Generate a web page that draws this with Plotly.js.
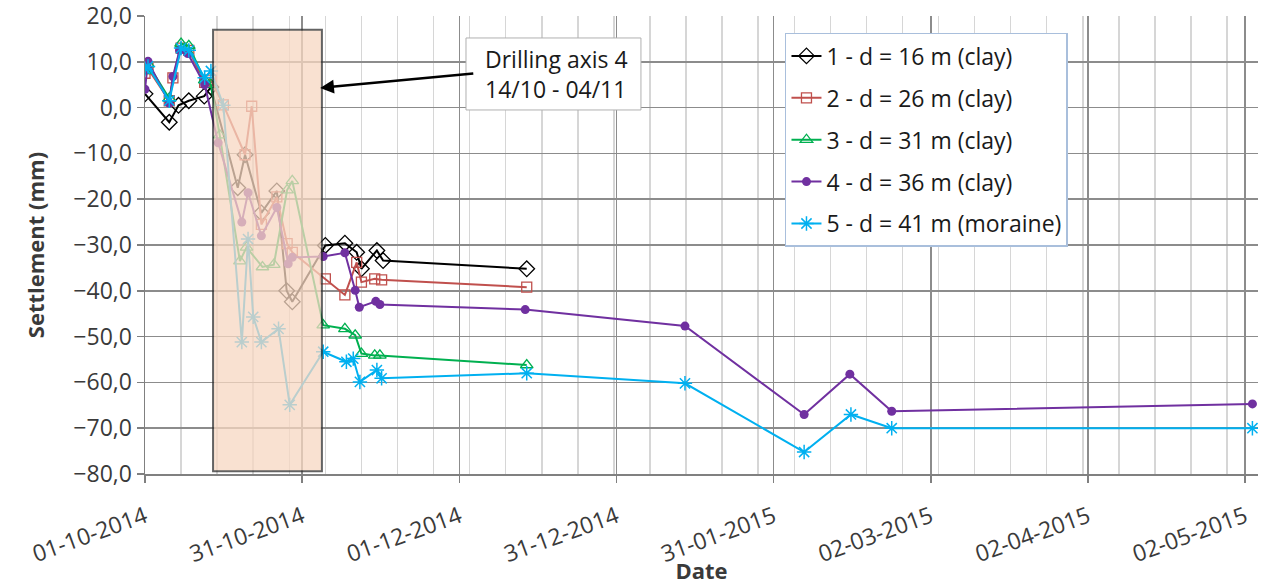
<!DOCTYPE html>
<html>
<head>
<meta charset="utf-8">
<script src="https://cdn.plot.ly/plotly-3.0.1.min.js"></script>
<style>
  html, body { margin: 0; padding: 0; background: #ffffff; }
  #chart { width: 1265px; height: 585px; }
</style>
</head>
<body>
<div id="chart"></div>
<script>
// ---------------- DATA ----------------
const seriesNames = [
  "1 - d = 16 m (clay)",
  "2 - d = 26 m (clay)",
  "3 - d = 31 m (clay)",
  "4 - d = 36 m (clay)",
  "5 - d = 41 m (moraine)"
];

const dates1 = ["2014-10-01","2014-10-05 17:00","2014-10-07 12:00","2014-10-09 12:00","2014-10-12 12:00","2014-10-13 19:00",
  "2014-10-19","2014-10-20 10:00","2014-10-23 14:00","2014-10-26 14:00","2014-10-28 12:00","2014-10-29 14:00",
  "2014-11-05","2014-11-08 19:00","2014-11-11 02:00","2014-11-12","2014-11-15","2014-11-16 05:00","2014-12-14 02:00"];
const values1 = [3.0,-3.2,0.5,1.5,2.5,4.5,
  -17.5,-10.3,-23.0,-18.2,-40.0,-42.4,
  -30.1,-29.6,-31.6,-35.2,-31.2,-33.4,-35.2];

const dates2 = ["2014-10-01","2014-10-01 14:00","2014-10-05 17:00","2014-10-06 10:00","2014-10-08","2014-10-09 12:00","2014-10-12 14:00","2014-10-13 19:00",
  "2014-10-16 05:00","2014-10-20 10:00","2014-10-21 17:00","2014-10-23 14:00","2014-10-26 14:00","2014-10-28 14:00","2014-10-29 14:00",
  "2014-11-05","2014-11-08 19:00","2014-11-11 02:00","2014-11-12","2014-11-14 14:00","2014-11-15 22:00","2014-12-14 02:00"];
const values2 = [7.5,8.5,1.5,6.5,13.0,12.5,5.5,6.0,
  0.6,-10.3,0.3,-25.5,-19.5,-29.7,-31.6,
  -37.4,-40.9,-33.8,-38.1,-37.4,-37.6,-39.2];

const dates3 = ["2014-10-01","2014-10-01 14:00","2014-10-05 17:00","2014-10-08","2014-10-09 12:00","2014-10-12 14:00","2014-10-13 19:00",
  "2014-10-15 12:00","2014-10-19 10:00","2014-10-20 17:00","2014-10-23 19:00","2014-10-26","2014-10-28 14:00","2014-10-29 14:00",
  "2014-11-04 14:00","2014-11-08 19:00","2014-11-10 19:00","2014-11-12","2014-11-14 14:00","2014-11-15 14:00","2014-12-14 02:00"];
const values3 = [8.0,9.5,2.0,14.0,13.5,6.0,5.0,
  -6.0,-33.5,-30.5,-34.8,-34.3,-18.0,-16.0,
  -47.5,-48.3,-49.7,-53.7,-54.1,-54.1,-56.2];

const dates4 = ["2014-10-01","2014-10-01 14:00","2014-10-05 17:00","2014-10-06 10:00","2014-10-07 17:00","2014-10-09 07:00","2014-10-12 14:00",
  "2014-10-15 05:00","2014-10-19 19:00","2014-10-21","2014-10-23 14:00","2014-10-26 14:00","2014-10-28 19:00","2014-10-29 14:00",
  "2014-11-04 14:00","2014-11-08 19:00","2014-11-10 19:00","2014-11-11 14:00","2014-11-14 19:00","2014-11-15 14:00","2014-12-13 19:00",
  "2015-01-13 19:00","2015-02-05 22:00","2015-02-14 19:00","2015-02-22 22:00","2015-05-03 22:00"];
const values4 = [4.0,10.1,1.0,6.8,12.5,11.8,5.0,
  -7.7,-25.0,-18.6,-28.0,-21.8,-34.1,-32.7,
  -32.5,-31.7,-39.9,-43.6,-42.3,-43.0,-44.1,
  -47.7,-67.0,-58.2,-66.3,-64.7];

const dates5 = ["2014-10-01","2014-10-01 14:00","2014-10-05 17:00","2014-10-08","2014-10-09 12:00","2014-10-12 14:00","2014-10-13 19:00",
  "2014-10-16 05:00","2014-10-19 19:00","2014-10-21","2014-10-22","2014-10-23 14:00","2014-10-26 22:00","2014-10-29 02:00",
  "2014-11-04 14:00","2014-11-09 02:00","2014-11-10 10:00","2014-11-11 17:00","2014-11-15","2014-11-15 22:00","2014-12-14 02:00",
  "2015-01-13 19:00","2015-02-05 22:00","2015-02-15","2015-02-22 22:00","2015-05-03 22:00"];
const values5 = [8.5,9.0,1.5,13.0,12.5,6.5,8.0,
  0.5,-51.2,-28.7,-45.7,-51.2,-48.3,-64.9,
  -53.3,-55.5,-54.8,-59.9,-57.3,-59.1,-58.0,
  -60.2,-75.2,-67.0,-70.0,-70.0];

const drillingStart = "2014-10-14 05:00";
const drillingEnd = "2014-11-04 08:00";
const drillingText = "Drilling axis 4<br>14/10 - 04/11";

// ---------------- STYLE ----------------
const FONT = "Open Sans, Liberation Sans, sans-serif";
const colors = ["#000000", "#c0504d", "#00b050", "#7030a0", "#00b0f0"];
const markers = [
  {symbol: "diamond-open", size: 12, color: colors[0], line: {width: 1.3, color: colors[0]}},
  {symbol: "square-open", size: 10, color: colors[1], line: {width: 1.3, color: colors[1]}},
  {symbol: "triangle-up-open", size: 11, color: colors[2], line: {width: 1.3, color: colors[2]}},
  {symbol: "circle", size: 9, color: colors[3], line: {width: 0}},
  {symbol: "asterisk-open", size: 12, color: colors[4], line: {width: 1.5, color: colors[4]}}
];
const allDates = [dates1, dates2, dates3, dates4, dates5];
const allValues = [values1, values2, values3, values4, values5];

const traces = seriesNames.map((name, i) => ({
  type: "scatter",
  mode: "lines+markers",
  name: name,
  legendgroup: "g" + i,
  x: allDates[i],
  y: allValues[i],
  line: {color: colors[i], width: 2},
  marker: markers[i],
  hoverinfo: "skip"
}));

const DAY = 86400000;
const FS = 23;

const layout = {
  width: 1265,
  height: 585,
  margin: {l: 145, r: 7, t: 16, b: 111},
  paper_bgcolor: "#ffffff",
  plot_bgcolor: "#ffffff",
  separators: ", ",
  font: {family: FONT, size: FS, color: "#3a3a3a"},
  showlegend: true,
  legend: {
    x: 0.575, y: 0.963, xanchor: "left", yanchor: "top",
    bgcolor: "#ffffff", bordercolor: "#a9bfdc", borderwidth: 1.5,
    font: {family: FONT, size: FS, color: "#1a1a1a"},
    traceorder: "grouped", tracegroupgap: 9
  },
  xaxis: {
    type: "date",
    range: ["2014-10-01", "2015-05-05"],
    tick0: "2014-10-01",
    dtick: 30.5 * DAY,
    tickformat: "%d-%m-%Y",
    tickangle: -20,
    ticklabelstandoff: 12,
    ticklabeloverflow: "allow",
    ticks: "outside", ticklen: 7, tickwidth: 1.5, tickcolor: "#808080",
    showline: true, linecolor: "#808080", linewidth: 1.5,
    showgrid: true, gridcolor: "#8c8c8c", gridwidth: 1.5,
    minor: {dtick: 7 * DAY, tick0: "2014-10-01", showgrid: true, gridcolor: "#d6d6d6", gridwidth: 1.5, ticks: ""},
    zeroline: false,
    tickfont: {family: FONT, size: FS, color: "#3a3a3a"},
    title: {text: "<b>Date</b>", font: {family: FONT, size: 22, color: "#3a3a3a"}, standoff: 0},
    fixedrange: true
  },
  yaxis: {
    range: [-80, 20],
    dtick: 10,
    tickformat: ".1f",
    ticklabeloverflow: "allow",
    ticks: "outside", ticklen: 7, tickwidth: 1.5, tickcolor: "#808080",
    showline: true, linecolor: "#808080", linewidth: 1.5,
    showgrid: true, gridcolor: "#8c8c8c", gridwidth: 1.5,
    zeroline: false,
    tickfont: {family: FONT, size: FS, color: "#3a3a3a"},
    title: {text: "<b>Settlement (mm)</b>", font: {family: FONT, size: 22, color: "#3a3a3a"}, standoff: 22},
    fixedrange: true
  },
  shapes: [
    {
      type: "rect", xref: "x", yref: "y", layer: "above",
      x0: drillingStart, x1: drillingEnd, y0: -79.4, y1: 17,
      fillcolor: "#f8d8c2", opacity: 0.75,
      line: {color: "#303030", width: 2}
    },
    {
      type: "rect", xref: "paper", yref: "paper", layer: "above",
      x0: 0.2884, x1: 0.4456, y0: 0.7948, y1: 0.952,
      fillcolor: "#ffffff", line: {color: "#b0b0b0", width: 1}
    }
  ],
  annotations: [
    {
      xref: "paper", yref: "paper",
      x: 0.3037, y: 0.8734, xanchor: "left", yanchor: "middle",
      text: drillingText, showarrow: false, align: "left",
      font: {family: FONT, size: FS, color: "#1a1a1a"}
    },
    {
      xref: "x", yref: "y", axref: "x", ayref: "y",
      x: "2014-11-04 00:00", y: 4.3,
      ax: "2014-12-04 00:00", ay: 7.5,
      text: "", showarrow: true,
      arrowhead: 2, arrowsize: 1.1, arrowwidth: 2.5, arrowcolor: "#000000"
    }
  ]
};

Plotly.newPlot("chart", traces, layout, {staticPlot: true, displayModeBar: false});
</script>
</body>
</html>
